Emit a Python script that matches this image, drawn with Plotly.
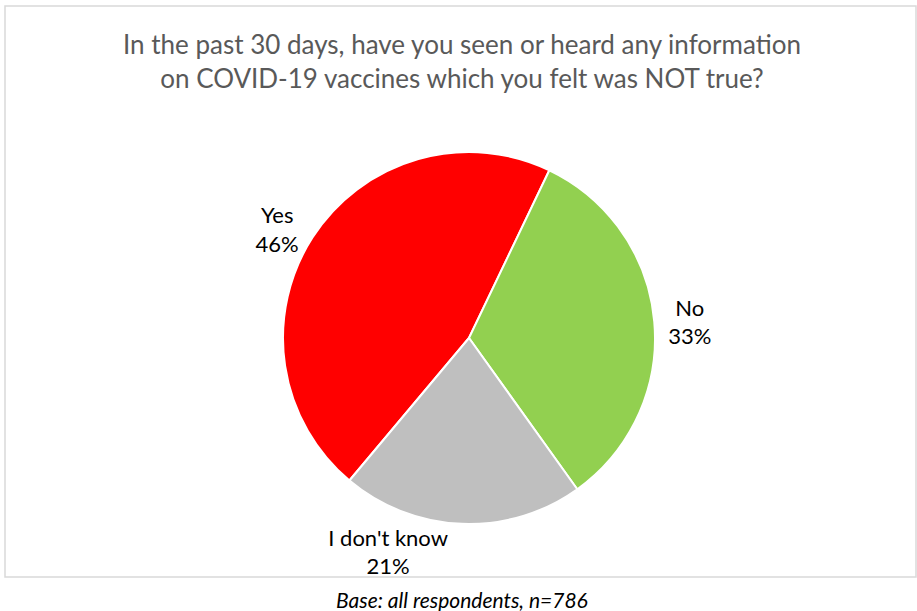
import plotly.graph_objects as go

labels = ["Yes", "No", "I don't know"]
values = [46, 33, 21]
colors = ["#FF0000", "#92D050", "#BFBFBF"]

title_text = "In the past 30 days, have you seen or heard any information<br>on COVID-19 vaccines which you felt was NOT true?"
footer_text = "Base: all respondents, n=786"

W, H = 917, 611
cx, cy, r = 469, 338, 186

fig = go.Figure(go.Pie(
    labels=labels,
    values=values,
    marker=dict(colors=colors, line=dict(color="white", width=2)),
    sort=False,
    direction="clockwise",
    rotation=220,
    textposition="outside",
    texttemplate="%{label}<br>%{value}%",
    textfont=dict(family="Lato", size=22, color="#000000"),
    showlegend=False,
    hoverinfo="label+percent",
    domain=dict(x=[(cx - r) / W, (cx + r) / W], y=[1 - (cy + r) / H, 1 - (cy - r) / H]),
))

fig.update_layout(
    width=W, height=H,
    margin=dict(l=0, r=0, t=0, b=0),
    paper_bgcolor="white",
    plot_bgcolor="white",
    shapes=[dict(type="rect", xref="paper", yref="paper",
                 x0=5 / W, x1=916 / W, y0=1 - 577 / H, y1=1 - 6 / H,
                 line=dict(color="#D9D9D9", width=1.5))],
    annotations=[
        dict(text=title_text, xref="paper", yref="paper", x=462 / W, y=1 - 61 / H,
             xanchor="center", yanchor="middle", showarrow=False,
             font=dict(family="Lato", size=26, color="#595959")),
        dict(text="<i>" + footer_text + "</i>", xref="paper", yref="paper", x=462 / W, y=1 - 599 / H,
             xanchor="center", yanchor="middle", showarrow=False,
             font=dict(family="Lato", size=21, color="#000000")),
    ],
)

fig.write_html("out.html", config={"displayModeBar": False},
               post_script="document.body.style.margin='0';document.body.style.overflow='hidden';")
